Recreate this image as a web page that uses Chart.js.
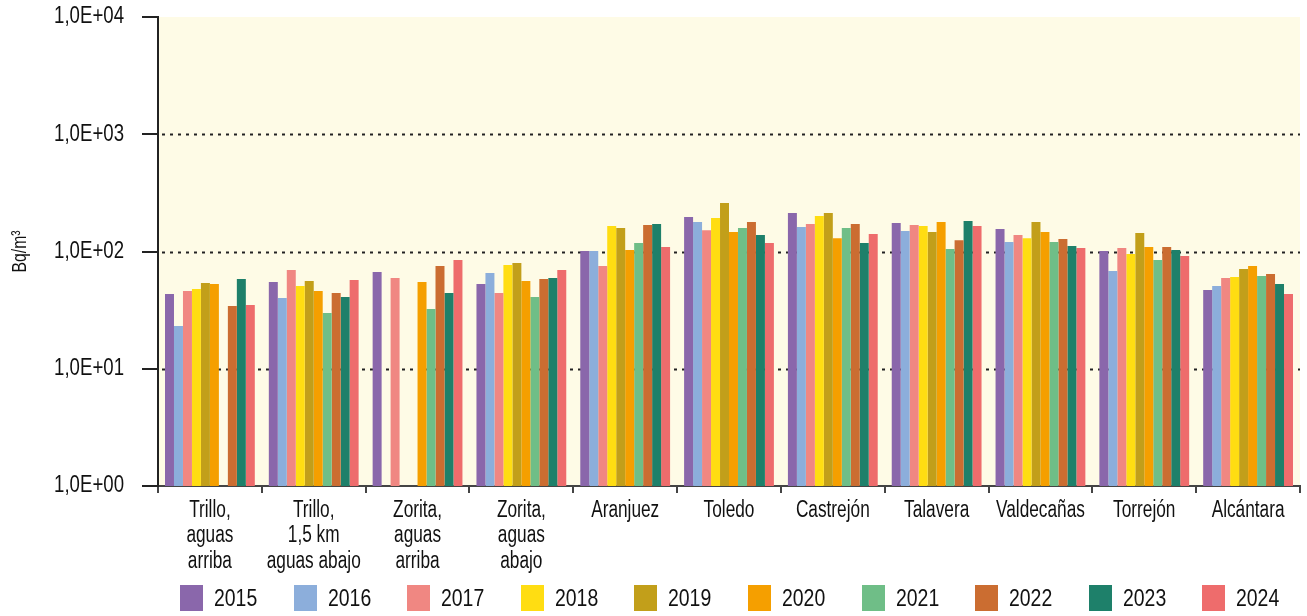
<!DOCTYPE html>
<html lang="es">
<head>
<meta charset="utf-8">
<script src="https://cdn.jsdelivr.net/npm/chart.js@4/dist/chart.umd.min.js"></script>
<style>
  html, body { margin: 0; padding: 0; background: #fff; }
  #wrap { position: relative; width: 1307px; height: 616px; }
  #legend {
    position: absolute; left: 180px; top: 585px;
    display: flex;
    font-family: 'Liberation Sans', Arial, sans-serif;
    font-size: 24px; color: #111;
  }
  .leg-item { display: flex; align-items: center; width: 113.6px; height: 26px; }
  .leg-box { width: 23px; height: 26px; margin-right: 11px; flex: none; }
  .leg-text { display: inline-block; line-height: 26px; transform: scaleX(0.81); transform-origin: left center; }
</style>
</head>
<body>
<div id="wrap">
  <canvas id="radonChart" width="1307" height="616"></canvas>
  <div id="legend"></div>
</div>
<script>
'use strict';

// estaciones (eje x)
const stations = [
  ["Trillo,", "aguas", "arriba"],
  ["Trillo,", "1,5 km", "aguas abajo"],
  ["Zorita,", "aguas", "arriba"],
  ["Zorita,", "aguas", "abajo"],
  "Aranjuez",
  "Toledo",
  "Castrejón",
  "Talavera",
  "Valdecañas",
  "Torrejón",
  "Alcántara"
];

const years = ["2015", "2016", "2017", "2018", "2019", "2020", "2021", "2022", "2023", "2024"];

// valores en Bq/m3 por año (null = sin dato)
const y2015 = [43.4, 55, 66.8, 52.8, 101, 197, 213, 175, 155.5, 101, 47];
const y2016 = [23.1, 40.1, null, 65.6, 101, 178.5, 162, 149.5, 120.5, 68.2, 50.8];
const y2017 = [46, 69.5, 59.4, 44.3, 75.2, 152, 171.6, 168, 138, 107, 59.4];
const y2018 = [47.9, 50.8, null, 76.7, 165, 193, 201, 165, 130, 95.2, 60.6];
const y2019 = [53.9, 56, null, 79.8, 158.6, 259, 213, 146.7, 178.5, 143.8, 70.9];
const y2020 = [52.8, 46, 55, 56, 103, 146.7, 130, 178.5, 146.7, 109, 75.2];
const y2021 = [null, 29.9, 32.3, 40.9, 118, 158.6, 158.6, 105, 120.5, 84.6, 61.8];
const y2022 = [34.3, 44.3, 75.2, 58.3, 168, 178.5, 171.6, 125, 128, 109, 64.3];
const y2023 = [58.3, 40.9, 44.3, 59.4, 171.6, 138, 118, 182, 111.4, 103, 52.8];
const y2024 = [35, 57.1, 84.6, 69.5, 109, 118, 141, 165, 107, 91.5, 43.4];

const series = [y2015, y2016, y2017, y2018, y2019, y2020, y2021, y2022, y2023, y2024];

const colors = [
  "#8a67ab", "#8caedb", "#f08782", "#ffdd12", "#c29f1a",
  "#f59f00", "#6fbe87", "#cb6d31", "#1e806a", "#ee6c6c"
];

// potencias de 10 del eje y
const yTicks = [1, 10, 100, 1000, 10000];
const dottedLevels = [10, 100, 1000];

Chart.defaults.font.family = "'Liberation Sans', Arial, sans-serif";
Chart.defaults.color = "#111";

// texto estrecho: comprime horizontalmente cada texto alrededor de su punto de anclaje
const narrowText = {
  id: "narrowText",
  beforeInit(chart) {
    const ctx = chart.ctx;
    const fill = ctx.fillText.bind(ctx);
    ctx.fillText = function (text, x, y) {
      const k = /^[0-9,E+]+$/.test(text) ? 0.81 : 0.75;
      ctx.save();
      ctx.translate(x, y);
      ctx.scale(k, 1);
      fill(text, 0, 0);
      ctx.restore();
    };
  }
};

// fondo del área de trazado + líneas punteadas
const plotDecor = {
  id: "plotDecor",
  beforeDraw(chart) {
    const { ctx, chartArea: a } = chart;
    ctx.save();
    ctx.fillStyle = "#fefbe6";
    ctx.fillRect(a.left, a.top, a.right - a.left, a.bottom - a.top);
    ctx.restore();
  },
  beforeDatasetsDraw(chart) {
    const { ctx, chartArea: a } = chart;
    const y = chart.scales.y;
    ctx.save();
    ctx.strokeStyle = "#222";
    ctx.lineWidth = 1.8;
    ctx.setLineDash([3, 5]);
    dottedLevels.forEach(v => {
      const py = Math.round(y.getPixelForValue(v)) + 0.5;
      ctx.beginPath();
      ctx.moveTo(a.left + 4, py);
      ctx.lineTo(a.right, py);
      ctx.stroke();
    });
    ctx.restore();
  }
};

new Chart("radonChart", {
  type: "bar",
  data: {
    labels: stations,
    datasets: series.map((data, i) => ({
      label: years[i],
      data: data,
      backgroundColor: colors[i],
      borderWidth: 0,
      categoryPercentage: 0.865,
      barPercentage: 1
    }))
  },
  options: {
    responsive: false,
    animation: false,
    layout: { padding: { left: 0, top: 17, right: 7, bottom: 40 } },
    plugins: {
      legend: { display: false },
      tooltip: { enabled: false }
    },
    scales: {
      x: {
        afterFit: s => { s.height = 90; },
        grid: {
          offset: true,
          drawOnChartArea: false,
          drawTicks: true,
          tickLength: 7,
          color: "#444",
          lineWidth: 2
        },
        border: { display: true, color: "#444", width: 2 },
        ticks: {
          maxRotation: 0,
          autoSkip: false,
          padding: 5,
          font: { size: 23, lineHeight: 1.1 },
          color: "#111"
        }
      },
      y: {
        type: "logarithmic",
        min: 1,
        max: 10000,
        afterFit: s => {
          s.width = 158;
          s.paddingTop = 0;
          s.paddingBottom = 0;
        },
        afterBuildTicks: s => { s.ticks = yTicks.map(v => ({ value: v })); },
        grid: {
          drawOnChartArea: false,
          drawTicks: true,
          tickLength: 16,
          color: "#222",
          lineWidth: 2
        },
        border: { display: true, color: "#222", width: 2 },
        ticks: {
          padding: 18,
          font: { size: 23 },
          color: "#111",
          callback: v => "1,0E+" + String(Math.round(Math.log10(v))).padStart(2, "0")
        },
        title: {
          display: true,
          text: "Bq/m³",
          font: { size: 21 },
          color: "#111",
          padding: { top: 8, bottom: 0 }
        }
      }
    }
  },
  plugins: [narrowText, plotDecor]
});

// leyenda de años
const legend = document.getElementById("legend");
years.forEach((yr, i) => {
  const item = document.createElement("div");
  item.className = "leg-item";
  item.innerHTML = `<span class="leg-box" style="background:${colors[i]}"></span><span class="leg-text">${yr}</span>`;
  legend.appendChild(item);
});
</script>
</body>
</html>
